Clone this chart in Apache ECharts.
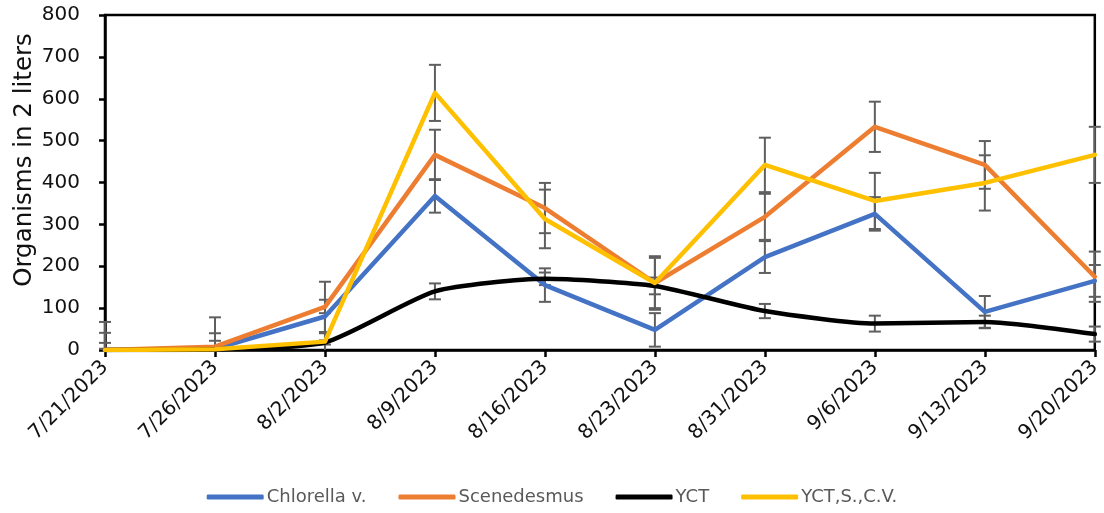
<!DOCTYPE html>
<html>
<head>
<meta charset="utf-8">
<script src="https://cdn.jsdelivr.net/npm/echarts@6/dist/echarts.min.js"></script>
<style>html,body{margin:0;padding:0;background:#fff}#c{width:1104px;height:513px}</style>
</head>
<body>
<div id="c"></div>
<script>
const categories = ['7/21/2023','7/26/2023','8/2/2023','8/9/2023','8/16/2023','8/23/2023','8/31/2023','9/6/2023','9/13/2023','9/20/2023'];
const seriesNames = ['Chlorella v.','Scenedesmus','YCT','YCT,S.,C.V.'];
const yTitle = 'Organisms in 2 liters';
const chlorella   = [0, 3, 80, 368, 155, 48, 222, 325, 91, 165];
const scenedesmus = [0, 8, 103, 466, 339, 160, 318, 533, 442, 175];
const yct         = [0, 2, 18, 140, 170, 153, 93, 63, 67, 38];
const yctsc       = [0, 2, 20, 614, 313, 160, 442, 356, 399, 466];
const chlorellaErr   = [17, 19, 40, 40, 40, 40, 38, 40, 38, 38];
const scenedesmusErr = [67, 70, 60, 60, 60, 64, 55, 60, 57, 60];
const yctErr         = [3, 3, 5, 19, 15, 20, 17, 19, 15, 18];
const yctscErr       = [41, 38, 68, 67, 70, 60, 65, 67, 66, 67];
const yTicks = [0, 100, 200, 300, 400, 500, 600, 700, 800];

const colors = ['#4472C4', '#ED7D31', '#000000', '#FFC000'];
const values = [chlorella, scenedesmus, yct, yctsc];
const errs = [chlorellaErr, scenedesmusErr, yctErr, yctscErr];

const chart = echarts.init(document.getElementById('c'), null, {renderer: 'canvas'});
const FONT = 'DejaVu Sans';

function errSeries(vals, es) {
  return {
    type: 'custom',
    z: 1,
    silent: true,
    clip: false,
    dimensions: ['x', 'lo', 'hi', 'clamped'],
    encode: {x: 0, y: [1, 2]},
    data: vals.map((v, i) => [i, Math.max(0, v - es[i]), v + es[i], v - es[i] < 0 ? 1 : 0]),
    renderItem: function (params, api) {
      const idx = api.value(0);
      const lo = api.coord([idx, api.value(1)]);
      const hi = api.coord([idx, api.value(2)]);
      const w = 6;
      const st = {stroke: '#5f5f5f', lineWidth: 2};
      const ch = [
        {type: 'line', shape: {x1: lo[0], y1: lo[1], x2: hi[0], y2: hi[1]}, style: st},
        {type: 'line', shape: {x1: hi[0] - w, y1: hi[1], x2: hi[0] + w, y2: hi[1]}, style: st}
      ];
      if (!api.value(3)) ch.push({type: 'line', shape: {x1: lo[0] - w, y1: lo[1], x2: lo[0] + w, y2: lo[1]}, style: st});
      return {type: 'group', children: ch};
    }
  };
}

const series = [];
values.forEach((v, k) => series.push(errSeries(v, errs[k])));
values.forEach((v, k) => series.push({
  name: seriesNames[k],
  type: 'line',
  z: 3,
  data: v,
  smooth: k === 2 ? 0.2 : false,
  symbol: 'none',
  lineStyle: {color: colors[k], width: 4.5, join: 'round', cap: 'round'},
  itemStyle: {color: colors[k]}
}));

chart.setOption({
  animation: false,
  backgroundColor: '#fff',
  grid: {left: 105, right: 5, top: 15, bottom: 163, show: true, borderColor: '#000', borderWidth: 2.5, backgroundColor: 'transparent'},
  graphic: [{
    type: 'text',
    x: 25, y: 160,
    rotation: Math.PI / 2,
    style: {text: yTitle, fontFamily: FONT, fontSize: 24.5, fill: '#111', align: 'center', verticalAlign: 'middle'}
  }],
  legend: {
    data: seriesNames,
    bottom: 2,
    left: 'center',
    icon: 'roundRect',
    itemWidth: 57,
    itemHeight: 5,
    itemGap: 32,
    textStyle: {fontFamily: FONT, fontSize: 18, color: '#595959', padding: [0, 0, 0, -2]}
  },
  xAxis: {
    type: 'category',
    data: categories,
    boundaryGap: false,
    axisLine: {lineStyle: {color: '#000', width: 2.5}},
    axisTick: {show: true, length: 7, lineStyle: {color: '#000', width: 2.5}},
    axisLabel: {rotate: 45, fontFamily: FONT, fontSize: 20, color: '#111', margin: 14, interval: 0}
  },
  yAxis: {
    type: 'value',
    min: 0, max: 800, interval: 100,
    axisLine: {show: true, lineStyle: {color: '#000', width: 2.5}},
    axisTick: {show: true, length: 6, lineStyle: {color: '#000', width: 2.5}},
    axisLabel: {fontFamily: FONT, fontSize: 20, color: '#111', margin: 25,
      formatter: v => yTicks.includes(v) ? String(v) : ''},
    splitLine: {show: false}
  },
  series: series
});
</script>
</body>
</html>
